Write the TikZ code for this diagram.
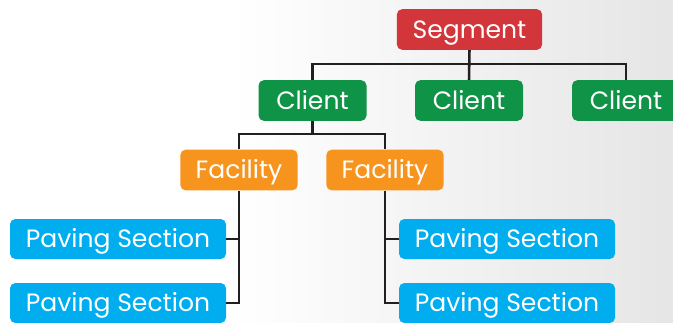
\documentclass[tikz,border=0pt]{standalone}
\usepackage{fontspec}
\setmainfont{Poppins}
\definecolor{segred}{HTML}{D2353A}
\definecolor{clientgreen}{HTML}{0F9447}
\definecolor{facorange}{HTML}{F7941E}
\definecolor{paveblue}{HTML}{00AEEF}
\definecolor{linkgray}{HTML}{231F20}
\tikzset{
  tbox/.style={rounded corners=4pt, text=white, inner sep=0pt, minimum height=30.5pt,
    text height=13pt, text depth=0pt, font=\fontsize{18.8}{22}\selectfont},
  segbox/.style={tbox, fill=segred, minimum width=109pt},
  clientbox/.style={tbox, fill=clientgreen, minimum width=81pt},
  facbox/.style={tbox, fill=facorange, minimum width=88pt},
  pavebox/.style={tbox, fill=paveblue, minimum width=162pt, minimum height=30pt},
  link/.style={draw=linkgray, line width=1.9pt}
}
\begin{document}
\begin{tikzpicture}[x=0.75pt,y=-0.75pt]
			%%%%% START %%%%%
			
			\clip (0,0) rectangle (673,322);
			\fill[white] (0,0) rectangle (673,322);
			\shade[left color=white, right color=black!10] (230,0) rectangle (673,322);
			
			\coordinate (bus) at (0,64);
			\coordinate (fbus) at (0,134);
			
			\node[segbox] (seg) at (469.5,29.5) {Segment};
			
			\node[clientbox] (cli1) at (312.5,100.5) {Client};
			\node[clientbox] (cli2) at (469,100.5) {Client};
			\node[clientbox] (cli3) at (626,100.5) {Client};
			
			\node[facbox] (fac1) at (239,170) {Facility};
			\node[facbox] (fac2) at (385,170) {Facility};
			
			\node[pavebox] (pav1) at (118,239) {Paving Section};
			\node[pavebox] (pav2) at (118,303) {Paving Section};
			\node[pavebox] (pav3) at (507,239) {Paving Section};
			\node[pavebox] (pav4) at (507,303) {Paving Section};
			
			\draw[link] (seg.south) -- (cli2.north);
			\draw[link] (cli1.north) |- (cli3.north |- bus) -- (cli3.north);
			
			\draw[link] (cli1.south) -- (cli1.south |- fbus);
			\draw[link] (fac1.north) |- (fac2.north |- fbus) -- (fac2.north);
			
			\draw[link] (fac1.south) |- (pav2.east);
			\draw[link] (pav1.east) -- (pav1.east -| fac1.south);
			\draw[link] (fac2.south) |- (pav4.west);
			\draw[link] (pav3.west) -- (pav3.west -| fac2.south);
			
			%%%%% END %%%%%
		\end{tikzpicture}
\end{document}
